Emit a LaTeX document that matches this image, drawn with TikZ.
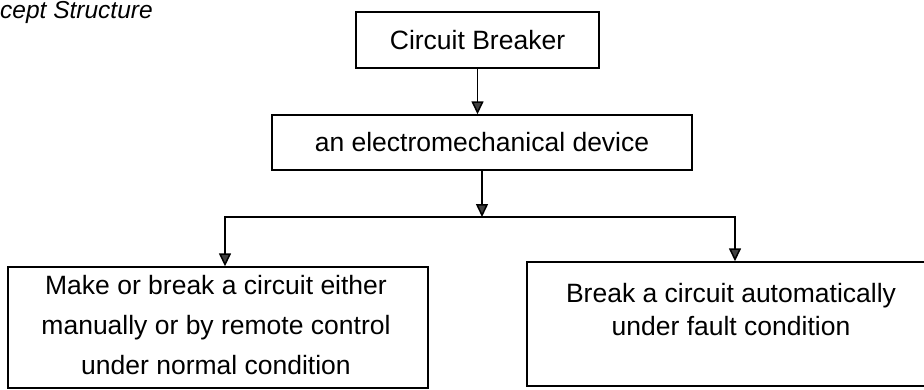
\documentclass[tikz,border=0pt]{standalone}
\usepackage{fontspec}
\setmainfont{Liberation Sans}
\usetikzlibrary{arrows.meta}
\begin{document}
\begin{tikzpicture}[x=1pt,y=1pt,
  boxstyle/.style={draw, line width=1.4pt, inner sep=0pt,
    font=\fontsize{26.5}{30}\selectfont},
  lbl/.style={anchor=base, inner sep=0pt, font=\fontsize{26.5}{30}\selectfont},
  arr/.style={line width=1.5pt, -{Triangle[length=13pt,width=12pt,fill=black!75]}}]
\useasboundingbox (0,0) rectangle (924,389);
\clip (0,0) rectangle (924,389);
% title (cut off at the left edge)
\node[anchor=base west, inner sep=0pt, font=\fontsize{24.5}{28}\selectfont\itshape] (title) at (0,370) {cept Structure};
% boxes
\node[boxstyle, minimum width=243pt, minimum height=56pt] (b1) at (477.5,349) {Circuit Breaker};
\node[boxstyle, minimum width=420pt, minimum height=55pt] (b2) at (482,246.5) {an electromechanical device};
\node[boxstyle, minimum width=420pt, minimum height=121pt] (b3) at (218,61.5) {};
\node[boxstyle, minimum width=408pt, minimum height=124pt] (b4) at (731,65) {};
% texts of the lower boxes
\node[lbl] (t3a) at (216,95) {Make or break a circuit either};
\node[lbl] (t3b) at (216,55) {manually or by remote control};
\node[lbl] (t3c) at (216,15) {under normal condition};
\node[lbl] (t4a) at (731,87) {Break a circuit automatically};
\node[lbl] (t4b) at (731,54) {under fault condition};
% connectors
\coordinate (j) at (b2.south |- 0,172);
\draw[arr] (b1.south) -- (b1.south |- b2.north);
\draw[arr] (b2.south) -- (j);
\draw[arr] (j) -| ([xshift=7pt]b3.north);
\draw[arr] (j) -| ([xshift=4pt]b4.north);
\end{tikzpicture}
\end{document}
